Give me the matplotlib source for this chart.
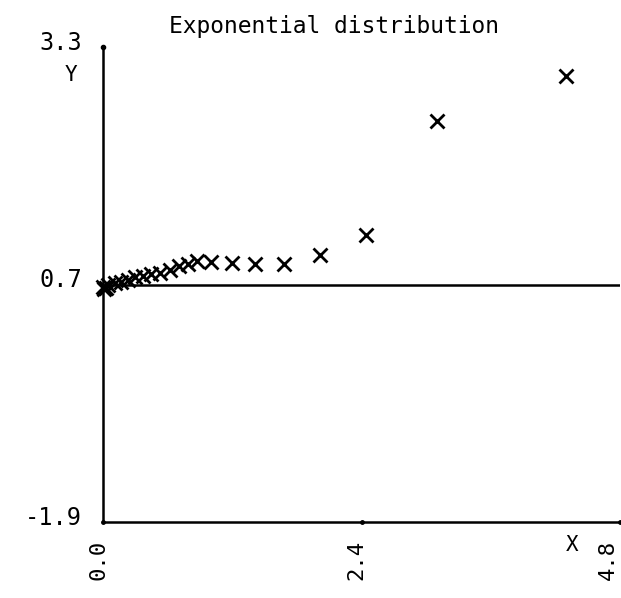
import numpy as np
import matplotlib.pyplot as plt
from matplotlib.transforms import ScaledTranslation

plt.rcParams['font.family'] = ['DejaVu Sans Mono']

# ordered sample values and fitted scores
x_vals = [0.00, 0.01, 0.03, 0.05, 0.11, 0.17, 0.23, 0.30, 0.37, 0.45, 0.53, 0.62,
          0.71, 0.79, 0.87, 1.00, 1.20, 1.41, 1.68, 2.01, 2.44, 3.10, 4.30]
y_vals = [0.67, 0.65, 0.66, 0.70, 0.72, 0.73, 0.75, 0.78, 0.79, 0.82, 0.83, 0.86,
          0.90, 0.93, 0.96, 0.95, 0.94, 0.93, 0.93, 1.02, 1.24, 2.49, 2.99]

x_ticks = [0.0, 2.4, 4.8]
x_ticklabels = ['0.0', '2.4', '4.8']
y_ticks = [-1.9, 0.7, 3.3]
y_ticklabels = ['-1.9', '0.7', '3.3']
ref_level = 0.7

fig = plt.figure(figsize=(6.21, 5.98), dpi=100)
ax = fig.add_axes([0.1659, 0.127, 0.8325, 0.794])

ax.plot(x_vals, y_vals, 'x', color='black', markersize=10, markeredgewidth=2, clip_on=False)
ax.axhline(ref_level, color='black', lw=1.8)

ax.set_xlim(x_ticks[0], x_ticks[-1])
ax.set_ylim(y_ticks[0], y_ticks[-1])

for s in ['top', 'right']:
    ax.spines[s].set_visible(False)
ax.spines['left'].set_linewidth(1.8)
ax.spines['bottom'].set_linewidth(1.8)

# small end dots on the axes
ax.plot([0], [y_ticks[-1]], 'o', color='black', markersize=3, clip_on=False)
ax.plot(x_ticks, [y_ticks[0]] * 3, 'o', color='black', markersize=2.5, clip_on=False)

ax.set_xticks(x_ticks)
ax.set_xticklabels(x_ticklabels, rotation=90, fontsize=16)
ax.set_yticks(y_ticks)
ax.set_yticklabels(y_ticklabels, fontsize=17)
ax.tick_params(axis='x', length=0, pad=13)
ax.tick_params(axis='y', length=0, pad=15)

xlabs = ax.get_xticklabels()
for i, lab in enumerate(xlabs):
    dx = -0.12 if i == len(xlabs) - 1 else -0.05
    lab.set_transform(lab.get_transform() + ScaledTranslation(dx, 0, fig.dpi_scale_trans))
up = ScaledTranslation(0, 0.07, fig.dpi_scale_trans)
for lab in ax.get_yticklabels():
    lab.set_transform(lab.get_transform() + up)

ax.text(-0.3, 3.0, 'Y', fontsize=15, ha='center', va='center')
ax.text(4.36, -2.15, 'X', fontsize=15, ha='center', va='center', clip_on=False)
fig.text(334 / 621, 1 - 27 / 598, 'Exponential distribution', fontsize=16.5,
         ha='center', va='center')

fig.savefig('out.png', dpi=100)
